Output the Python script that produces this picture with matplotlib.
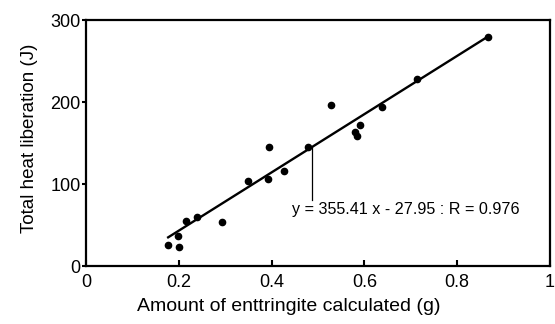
import numpy as np
import matplotlib.pyplot as plt

plt.rcParams['font.family'] = ['Liberation Sans', 'DejaVu Sans']

# ettringite amount (g) vs total heat (J)
ettringite = [0.177, 0.200, 0.199, 0.215, 0.240, 0.293, 0.350, 0.393, 0.395,
              0.426, 0.478, 0.527, 0.579, 0.585, 0.591, 0.637, 0.714, 0.866]
heat = [25.6, 23.6, 36.6, 55.3, 59.8, 53.7, 103.7, 105.7, 145.5,
        115.9, 145.5, 196.3, 163.8, 158.5, 172.3, 193.5, 228.4, 279.6]

slope = 355.41
intercept = -27.95
r_value = 0.976

fig = plt.figure(figsize=(5.55, 3.24), dpi=100)
ax = fig.add_axes([0.155, 0.179, 0.836, 0.759])

ax.plot(ettringite, heat, 'o', color='black', markersize=4.5)

# fitted line over the data range
xfit = np.array([min(ettringite), max(ettringite)])
ax.plot(xfit, slope * xfit + intercept, color='black', linewidth=1.7)

# label with a leader line dropping from the fit
xa = 0.488
ax.plot([xa, xa], [slope * xa + intercept, 80], color='black', linewidth=0.9)
ax.text(0.444, 69, f'y = {slope} x - {abs(intercept)} : R = {r_value}',
        fontsize=11.6, va='center', ha='left')

ax.set_xlim(0, 1)
ax.set_ylim(0, 300)
ax.set_xticks([0, 0.2, 0.4, 0.6, 0.8, 1])
ax.set_xticklabels(['0', '0.2', '0.4', '0.6', '0.8', '1'])
ax.set_yticks([0, 100, 200, 300])
ax.tick_params(axis='x', direction='in', length=4, width=1.5, labelsize=13, pad=6)
ax.tick_params(axis='y', direction='out', length=3, width=1.5, labelsize=13, pad=1)
for s in ax.spines.values():
    s.set_linewidth(1.6)

ax.set_xlabel('Amount of enttringite calculated (g)', fontsize=14, labelpad=5)
ax.xaxis.label.set_x(0.4375)
ax.set_ylabel('Total heat liberation (J)', fontsize=13.5, labelpad=9)
ax.yaxis.label.set_y(0.518)

fig.savefig('out.png', dpi=100)
